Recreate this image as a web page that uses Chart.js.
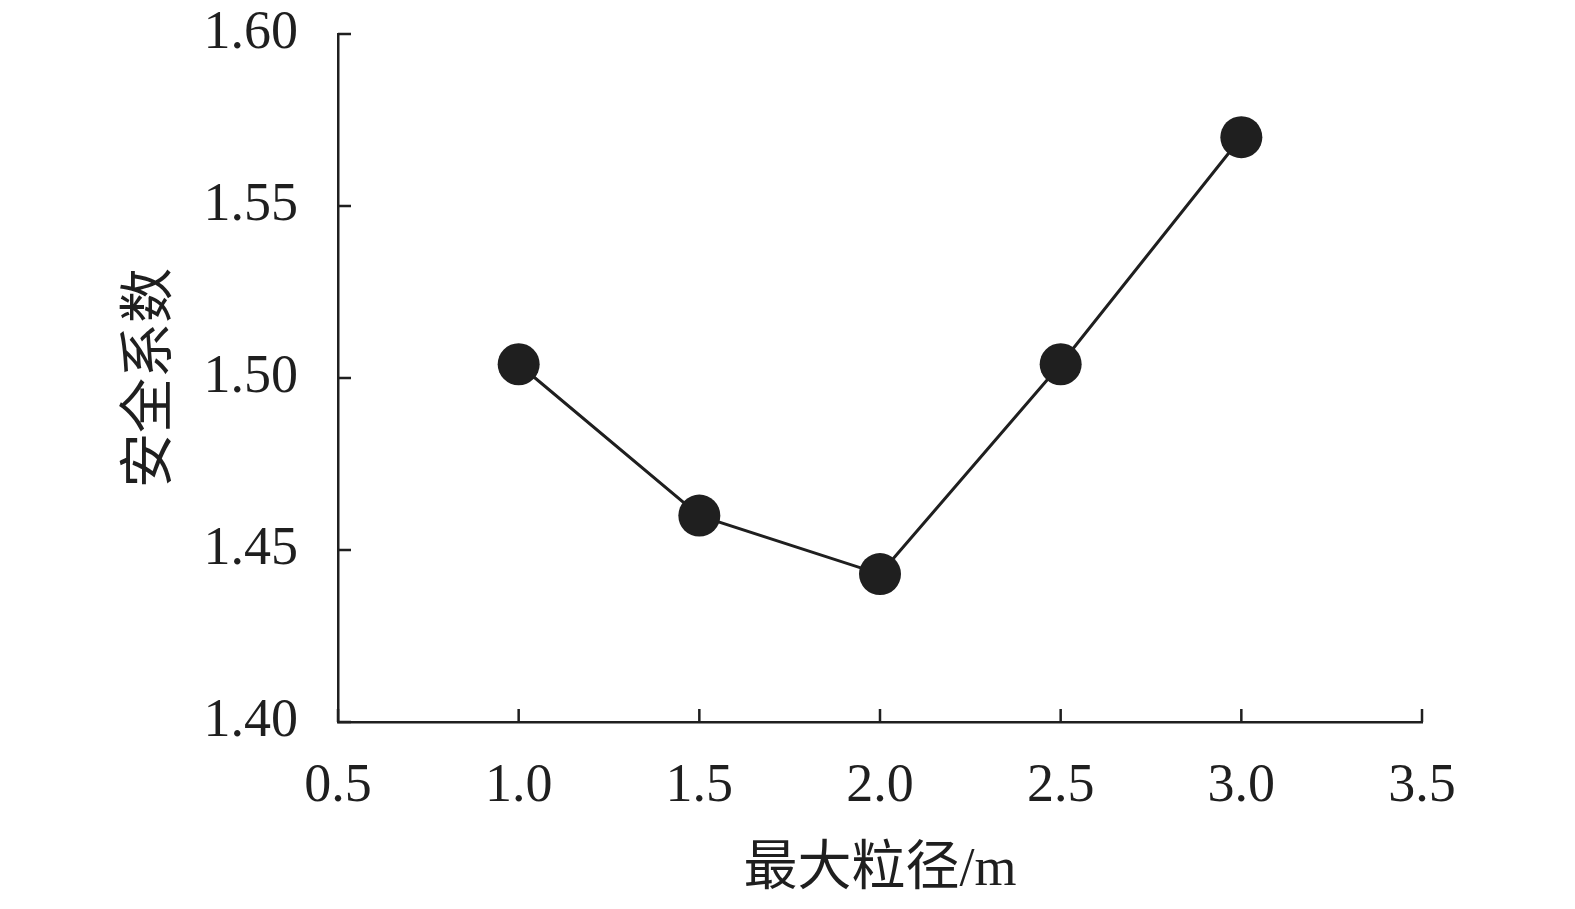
<!DOCTYPE html>
<html>
<head>
<meta charset="utf-8">
<script src="https://cdn.jsdelivr.net/npm/chart.js@4.4.0/dist/chart.umd.min.js"></script>
<style>
  body { margin: 0; background: #fff; }
  #wrap { width: 1575px; height: 909px; }
</style>
</head>
<body>
<div id="wrap"><canvas id="myChart" width="1575" height="909"></canvas></div>
<script>
// 데이터
var sizes = [1.0, 1.5, 2.0, 2.5, 3.0];          // 最大粒径/m
var factors = [1.504, 1.460, 1.443, 1.504, 1.570]; // 安全系数
var xTicks = [0.5, 1.0, 1.5, 2.0, 2.5, 3.0, 3.5];
var yTicks = [1.40, 1.45, 1.50, 1.55, 1.60];

var ink = '#1f1f1f';
var serif = "'Liberation Serif', 'Times New Roman', 'Noto Sans CJK SC', serif";

// 안쪽으로 향하는 눈금
var innerTicks = {
    id: 'innerTicks',
    afterDraw: function(chart) {
        var c = chart.ctx, a = chart.chartArea;
        var sx = chart.scales.x, sy = chart.scales.y;
        c.save();
        c.strokeStyle = ink;
        c.lineWidth = 2.5;
        c.beginPath();
        xTicks.forEach(function(v) {
            var px = sx.getPixelForValue(v);
            c.moveTo(px, a.bottom);
            c.lineTo(px, a.bottom - 13);
        });
        yTicks.forEach(function(v) {
            var py = sy.getPixelForValue(v);
            c.moveTo(a.left, py);
            c.lineTo(a.left + 13, py);
        });
        c.stroke();
        c.restore();
    }
};

var ctx = document.getElementById('myChart').getContext('2d');
var chart = new Chart(ctx, {
    type: 'line',
    data: {
        datasets: [{
            data: sizes.map(function(x, i) { return { x: x, y: factors[i] }; }),
            borderColor: ink,
            borderWidth: 3,
            backgroundColor: ink,
            pointBackgroundColor: ink,
            pointBorderColor: ink,
            pointRadius: 21,
            pointBorderWidth: 0,
            tension: 0,
            clip: false
        }]
    },
    options: {
        responsive: false,
        animation: false,
        layout: { padding: { left: 0, right: 153, top: 34, bottom: 0 } },
        plugins: { legend: { display: false }, tooltip: { enabled: false } },
        scales: {
            x: {
                type: 'linear',
                min: 0.5, max: 3.5,
                afterBuildTicks: function(s) { s.ticks = xTicks.map(function(v) { return { value: v }; }); },
                afterFit: function(s) {
                    s.height = 909 - 722;
                    s.paddingLeft = 0; s.paddingRight = 0;
                },
                grid: { display: false, drawTicks: false },
                border: { display: true, color: ink, width: 2.5 },
                ticks: {
                    padding: 32,
                    color: ink,
                    font: { family: serif, size: 54 },
                    callback: function(v) { return Number(v).toFixed(1); }
                },
                title: {
                    display: true,
                    text: '最大粒径/m',
                    color: ink,
                    font: { family: serif, size: 54 },
                    padding: { top: 6, bottom: 6 }
                }
            },
            y: {
                type: 'linear',
                min: 1.40, max: 1.60,
                afterBuildTicks: function(s) { s.ticks = yTicks.map(function(v) { return { value: v }; }); },
                afterFit: function(s) {
                    s.width = 338;
                    s.paddingTop = 0; s.paddingBottom = 0;
                },
                grid: { display: false, drawTicks: false },
                border: { display: true, color: ink, width: 2.5 },
                ticks: {
                    padding: 40,
                    color: ink,
                    font: { family: serif, size: 54 },
                    callback: function(v) { return Number(v).toFixed(2); }
                },
                title: {
                    display: true,
                    text: '安全系数',
                    color: ink,
                    font: { family: serif, size: 55 },
                    padding: { top: 119, bottom: 119 }
                }
            }
        }
    },
    plugins: [innerTicks]
});
</script>
</body>
</html>
